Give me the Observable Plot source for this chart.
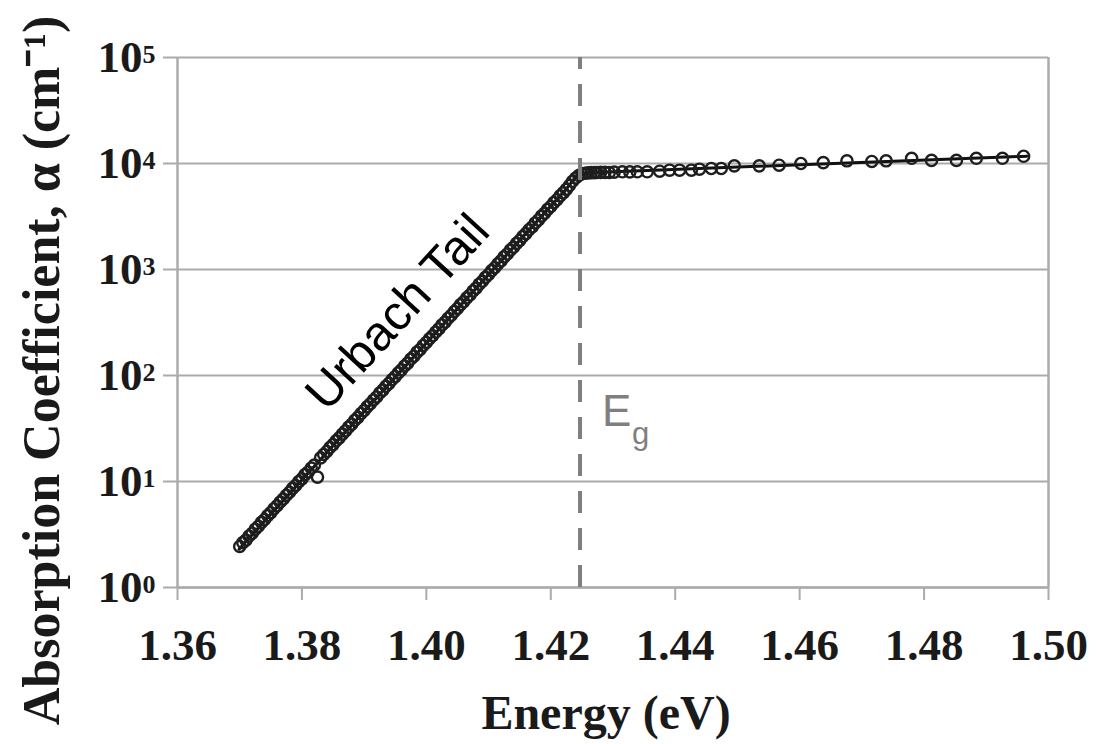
<!DOCTYPE html>
<html><head><meta charset="utf-8">
<script src="https://cdn.jsdelivr.net/npm/d3@7"></script>
<script src="https://cdn.jsdelivr.net/npm/@observablehq/plot@0.6"></script>
<style>html,body{margin:0;padding:0;background:#fff;} #chart svg{display:block;}</style>
</head><body><div id="chart"></div>
<script>
const xTicks = [1.36, 1.38, 1.40, 1.42, 1.44, 1.46, 1.48, 1.50];
const yTicks = [1, 10, 100, 1000, 10000, 100000];
const yExponents = ["0", "1", "2", "3", "4", "5"];

// Urbach tail measurements (Energy eV, alpha cm^-1)
const tailE = [1.3700,1.3705,1.3710,1.3715,1.3720,1.3725,1.3730,1.3735,1.3740,1.3745,
1.3750,1.3755,1.3760,1.3765,1.3770,1.3775,1.3780,1.3785,1.3790,1.3795,
1.3800,1.3805,1.3810,1.3815,1.3820,1.3825,1.3830,1.3835,1.3840,1.3845,
1.3850,1.3855,1.3860,1.3865,1.3870,1.3875,1.3880,1.3885,1.3890,1.3895,
1.3900,1.3905,1.3910,1.3915,1.3920,1.3925,1.3930,1.3935,1.3940,1.3945,
1.3950,1.3955,1.3960,1.3965,1.3970,1.3975,1.3980,1.3985,1.3990,1.3995,
1.4000,1.4005,1.4010,1.4015,1.4020,1.4025,1.4030,1.4035,1.4040,1.4045,
1.4050,1.4055,1.4060,1.4065,1.4070,1.4075,1.4080,1.4085,1.4090,1.4095,
1.4100,1.4105,1.4110,1.4115,1.4120,1.4125,1.4130,1.4135,1.4140,1.4145,
1.4150,1.4155,1.4160,1.4165,1.4170,1.4175,1.4180,1.4185,1.4190,1.4195,
1.4200,1.4205,1.4210,1.4215,1.4220,1.4225,1.4230,1.4235,1.4240];
const tailA = [2.44,2.65,2.80,3.06,3.25,3.55,3.78,4.12,4.38,4.76,
5.08,5.53,5.90,6.40,6.83,7.42,7.92,8.61,9.18,9.98,
10.6,11.6,12.3,13.4,14.3,11.0,16.7,18.0,19.2,20.9,
22.3,24.2,25.8,28.0,30.0,32.6,34.7,37.8,40.3,43.8,
46.7,50.8,54.1,58.8,62.7,68.3,72.8,79.1,84.3,91.7,
97.7,106,113,123,131,143,152,166,176,192,
205,222,237,257,275,300,319,347,370,402,
429,466,496,540,575,627,668,727,774,842,
897,976,1040,1130,1205,1315,1400,1525,1620,1765,
1880,2045,2180,2370,2520,2750,2930,3190,3390,3690,
3930,4280,4550,4950,5280,5700,6200,6800,7300];

// Above-gap measurements
const plateauE = [1.4245,1.4250,1.4255,1.4260,1.4265,1.4270,1.4274,1.4280,1.4287,1.4294,
1.4302,1.4315,1.4327,1.4339,1.4355,1.4375,1.4391,1.4407,1.4426,1.4439,
1.4458,1.4474,1.4495,1.4535,1.4567,1.4602,1.4638,1.4676,1.4716,1.4739,
1.4780,1.4812,1.4852,1.4884,1.4926,1.4960];
const plateauA = [7700,8000,8100,8150,8200,8200,8220,8250,8250,8220,
8300,8350,8330,8350,8350,8460,8650,8650,8650,8840,
8970,8970,9500,9500,9640,10000,10200,10600,10450,10600,
11200,10700,10700,11200,11200,11700];

// Fitted curve
const fitE = [1.3699, 1.4225, 1.4232, 1.4238, 1.4243, 1.4250, 1.4965];
const fitA = [2.3, 5750, 6500, 7200, 7750, 8150, 11700];

const bandGapE = 1.4247;

const points = [
  ...tailE.map((e, i) => ({E: e, a: tailA[i]})),
  ...plateauE.map((e, i) => ({E: e, a: plateauA[i]}))
];
const fit = fitE.map((e, i) => ({E: e, a: fitA[i]}));
const yTickData = yTicks.map((v, i) => ({v, exp: yExponents[i]}));

const serif = '"Liberation Serif","Times New Roman",serif';
const sans = '"Liberation Sans",Arial,sans-serif';
const gridColor = "#ababab";
const ink = "#1a1a1a";

const chart = Plot.plot({
  width: 1099, height: 744,
  marginTop: 57, marginRight: 51, marginBottom: 157, marginLeft: 177,
  style: {fontFamily: serif, background: "#fff"},
  x: {domain: [1.36, 1.50]},
  y: {type: "log", domain: [1, 1e5]},
  marks: [
    Plot.gridY(yTicks, {stroke: gridColor, strokeOpacity: 1, strokeWidth: 2}),
    Plot.ruleX([1.50], {stroke: gridColor, strokeWidth: 2.5}),
    Plot.ruleX([1.36], {stroke: gridColor, strokeWidth: 2.5}),
    Plot.ruleY([1], {stroke: gridColor, strokeWidth: 2.5}),
    Plot.axisX(xTicks, {tickSize: 13, tickPadding: 28, tickFormat: d => d.toFixed(2),
      stroke: gridColor, strokeWidth: 2, fill: ink, fontSize: 45, fontWeight: "bold", label: null}),
    Plot.axisY(yTicks, {tickSize: 14, tickPadding: 21, tickFormat: () => "10",
      stroke: gridColor, strokeWidth: 2, fill: ink, fontSize: 45, fontWeight: "bold", label: null}),
    Plot.text(yTickData, {y: "v", text: "exp", frameAnchor: "left", dx: -35, dy: -13,
      textAnchor: "start", lineAnchor: "top", fontSize: 26, fontWeight: "bold", fill: ink}),
    Plot.line(fit, {x: "E", y: "a", stroke: "#111", strokeWidth: 3}),
    Plot.dot(points, {x: "E", y: "a", r: 5.6, stroke: "#1e1e1e", strokeWidth: 2.4, fill: "none"}),
    Plot.ruleX([bandGapE], {stroke: "#7f7f7f", strokeWidth: 4, strokeDasharray: "22,15", strokeDashoffset: 10}),
    Plot.text(["Urbach Tail"], {x: 1.3954, y: 393, rotate: -47.5, fontSize: 49, fontFamily: sans, fill: "#000"}),
    Plot.text(["E"], {x: bandGapE, dx: 22, y: 66, textAnchor: "start", lineAnchor: "top",
      fontSize: 44, fontFamily: sans, fill: "#7f7f7f"}),
    Plot.text(["g"], {x: bandGapE, dx: 52, y: 36.8, textAnchor: "start", lineAnchor: "top",
      fontSize: 31, fontFamily: sans, fill: "#7f7f7f"}),
    Plot.text(["Energy (eV)"], {frameAnchor: "bottom", dx: -7, dy: 107, lineAnchor: "top",
      fontSize: 48, fontWeight: "bold", fill: ink}),
    Plot.text(["Absorption Coefficient, α (cm⁻¹)"], {frameAnchor: "left", textAnchor: "middle", rotate: -90,
      dx: -135, dy: 48, fontSize: 52, fontWeight: "bold", fill: ink})
  ]
});
document.getElementById("chart").append(chart);
</script>
</body></html>
